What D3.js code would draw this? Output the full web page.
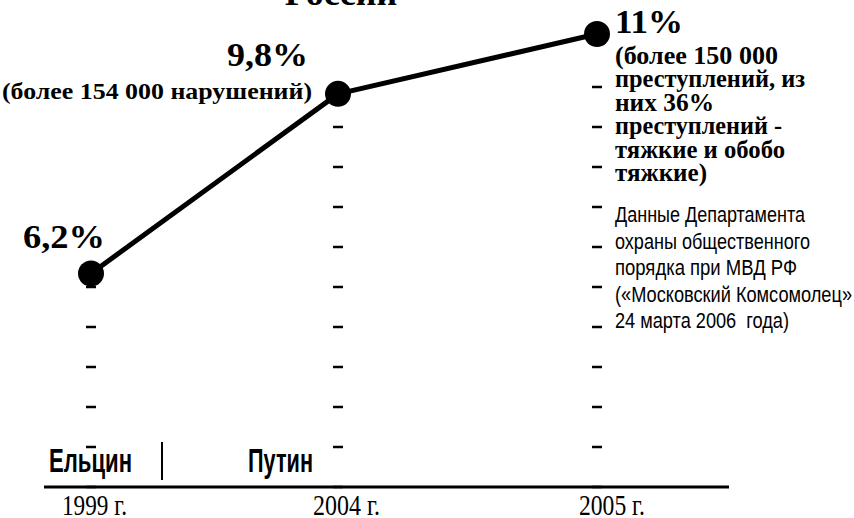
<!DOCTYPE html>
<html>
<head>
<meta charset="utf-8">
<script src="https://cdn.jsdelivr.net/npm/d3@7"></script>
<style>
  html, body { margin: 0; padding: 0; background: #fff; }
  svg { display: block; }
  text { white-space: pre; }
</style>
</head>
<body>
<div id="chart"></div>
<script>
// ---- data ----
const categories = ["1999", "2004", "2005"];
const tickLabels = ["1999 г.", "2004 г.", "2005 г."];
const values = [6.2, 9.8, 11];
const valueLabels = ["6,2%", "9,8%", "11%"];
const eras = ["Ельцин", "Путин"];
const titleText = "России";
const note2004 = ["(более 154 000 нарушений)"];
const note2005 = ["(более 150 000", "преступлений, из", "них 36%", "преступлений -", "тяжкие и обобо", "тяжкие)"];
const sourceLines = ["Данные Департамента", "охраны общественного", "порядка при МВД РФ", "(«Московский Комсомолец»", "24 марта 2006  года)"];

// ---- layout ----
const W = 854, H = 518;
const serif = "'Liberation Serif', 'Times New Roman', serif";
const sans = "'Liberation Sans Narrow', 'Liberation Sans', Arial, sans-serif";

const svg = d3.select("#chart").append("svg")
  .attr("width", W).attr("height", H);

const x = d3.scaleOrdinal().domain(categories).range([91, 338, 597]);
const y = d3.scaleLinear().domain([1.92, 11]).range([487, 34]);

const axisY = y.range()[0];

// title (only last line visible)
svg.append("text")
  .attr("x", 341).attr("y", 5)
  .attr("text-anchor", "middle")
  .attr("font-family", serif).attr("font-weight", "bold")
  .attr("font-size", 36)
  .text(titleText);

// x axis line
svg.append("line")
  .attr("x1", 44).attr("x2", 729)
  .attr("y1", axisY).attr("y2", axisY)
  .attr("stroke", "#000").attr("stroke-width", 3);

// tick labels
const tickLen = [65, 67, 66];
const tickDx = [3.5, 8.5, 15];
svg.selectAll("text.tick").data(tickLabels).enter().append("text")
  .attr("class", "tick")
  .attr("x", (d, i) => x(categories[i]) + tickDx[i])
  .attr("y", 515)
  .attr("text-anchor", "middle")
  .attr("font-family", serif).attr("font-size", 29)
  .attr("textLength", (d, i) => tickLen[i]).attr("lengthAdjust", "spacingAndGlyphs")
  .text(d => d);

// era labels
const eraX = [49, 248];
const eraLen = [83, 65];
svg.selectAll("text.era").data(eras).enter().append("text")
  .attr("class", "era")
  .attr("x", (d, i) => eraX[i]).attr("y", 472)
  .attr("font-family", sans).attr("font-weight", "bold").attr("font-size", 34)
  .attr("textLength", (d, i) => eraLen[i]).attr("lengthAdjust", "spacingAndGlyphs")
  .text(d => d);
svg.append("line")
  .attr("x1", 162).attr("x2", 162).attr("y1", 442).attr("y2", 480)
  .attr("stroke", "#000").attr("stroke-width", 2);

// dashed drop marks from axis up to each point
const dashStep = 40;
values.forEach((v, i) => {
  const cx = x(categories[i]);
  const py = y(v);
  const ys = d3.range(axisY, py + 13.5, -dashStep);
  svg.selectAll(null).data(ys).enter().append("line")
    .attr("x1", cx - 5).attr("x2", cx + 5)
    .attr("y1", d => d).attr("y2", d => d)
    .attr("stroke", "#000").attr("stroke-width", 2.5);
});

// line + points
const line = d3.line().x((d, i) => x(categories[i])).y(d => y(d));
svg.append("path").datum(values)
  .attr("d", line)
  .attr("fill", "none").attr("stroke", "#000").attr("stroke-width", 5)
  .attr("stroke-linejoin", "round");
svg.selectAll("circle.pt").data(values).enter().append("circle")
  .attr("class", "pt")
  .attr("cx", (d, i) => x(categories[i])).attr("cy", d => y(d))
  .attr("r", 13).attr("fill", "#000");

// value labels
const vlDx = [14, -30, 18];
const vlDy = [-25, -28, -1];
const vlAnchor = ["end", "end", "start"];
const vlLen = [82, 81, 68];
svg.selectAll("text.vl").data(valueLabels).enter().append("text")
  .attr("class", "vl")
  .attr("x", (d, i) => x(categories[i]) + vlDx[i])
  .attr("y", (d, i) => y(values[i]) + vlDy[i])
  .attr("text-anchor", (d, i) => vlAnchor[i])
  .attr("font-family", serif).attr("font-weight", "bold").attr("font-size", 34)
  .attr("textLength", (d, i) => vlLen[i]).attr("lengthAdjust", "spacingAndGlyphs")
  .text(d => d);

// note for 2004
svg.selectAll("text.n04").data(note2004).enter().append("text")
  .attr("class", "n04")
  .attr("x", x("2004") - 26).attr("y", y(9.8) + 5)
  .attr("text-anchor", "end")
  .attr("font-family", serif).attr("font-weight", "bold").attr("font-size", 23)
  .attr("textLength", 310).attr("lengthAdjust", "spacingAndGlyphs")
  .text(d => d);

// note for 2005
const n05Len = [163, 190, 99, 167, 170, 92];
const n05Base = [64, 87, 111, 134, 158, 181];
svg.selectAll("text.n05").data(note2005).enter().append("text")
  .attr("class", "n05")
  .attr("x", x("2005") + 18)
  .attr("y", (d, i) => n05Base[i])
  .attr("font-family", serif).attr("font-weight", "bold").attr("font-size", 25)
  .attr("textLength", (d, i) => n05Len[i]).attr("lengthAdjust", "spacingAndGlyphs")
  .text(d => d);

// source
const srcLen = [190, 195, 182, 237, 174];
svg.selectAll("text.src").data(sourceLines).enter().append("text")
  .attr("class", "src")
  .attr("x", x("2005") + 18)
  .attr("y", (d, i) => 222 + i * 26.6)
  .attr("font-family", sans).attr("font-size", 22)
  .attr("textLength", (d, i) => srcLen[i]).attr("lengthAdjust", "spacingAndGlyphs")
  .text(d => d);
</script>
</body>
</html>
